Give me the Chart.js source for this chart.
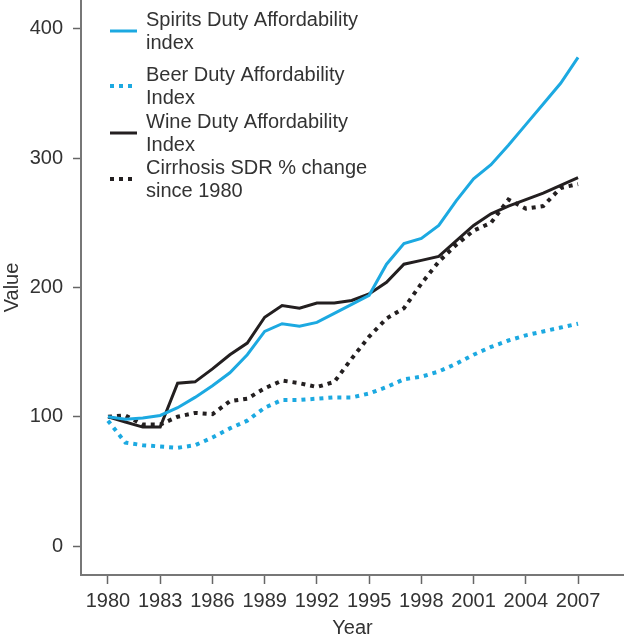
<!DOCTYPE html>
<html>
<head>
<meta charset="utf-8">
<script src="https://cdn.jsdelivr.net/npm/chart.js@4.4.0/dist/chart.umd.min.js"></script>
<style>
  html, body { margin: 0; padding: 0; background: #fff; }
</style>
</head>
<body>
<canvas id="myChart" width="624" height="640"></canvas>
<script>
var years = [1980, 1981, 1982, 1983, 1984, 1985, 1986, 1987, 1988, 1989,
             1990, 1991, 1992, 1993, 1994, 1995, 1996, 1997, 1998, 1999,
             2000, 2001, 2002, 2003, 2004, 2005, 2006, 2007];
var xTicks = [1980, 1983, 1986, 1989, 1992, 1995, 1998, 2001, 2004, 2007];
var yTicks = [0, 100, 200, 300, 400];

var spirits = [100, 98, 99, 101, 107, 115, 124, 134, 148, 166, 172, 170, 173, 180, 187, 194,
               218, 234, 238, 248, 267, 284, 295, 310, 326, 342, 358, 378];
var beer = [97, 80, 78, 77, 76, 78, 84, 91, 97, 107, 113, 113, 114, 115, 115, 118,
            123, 129, 131, 135, 141, 148, 154, 159, 163, 166, 169, 172];
var wine = [100, 96, 92, 92, 126, 127, 137, 148, 157, 177, 186, 184, 188, 188, 190, 195,
            204, 218, 221, 224, 236, 248, 257, 263, 268, 273, 279, 285];
var cirrhosis = [100, 101, 94, 94, 100, 103, 102, 112, 114, 122, 128, 126, 123, 127, 145, 162,
                 176, 184, 203, 220, 233, 244, 250, 268, 261, 263, 277, 280];

var legendLabels = [
    ['Spirits Duty Affordability', 'index'],
    ['Beer Duty Affordability', 'Index'],
    ['Wine Duty Affordability', 'Index'],
    ['Cirrhosis SDR % change', 'since 1980']
];

var BLUE = '#1ca9e1';
var BLACK = '#231f20';
var FONT = '"Liberation Sans", Arial, sans-serif';

function pts(vals) {
    return vals.map(function (v, i) { return { x: years[i], y: v }; });
}

// legend drawn inside the plot, top left, with two-line labels
var insideLegend = {
    id: 'insideLegend',
    afterDatasetsDraw: function (chart) {
        var c = chart.ctx;
        var area = chart.chartArea;
        var tops = [20, 75, 122, 168];
        c.save();
        c.font = '20px ' + FONT;
        c.textBaseline = 'middle';
        c.textAlign = 'left';
        chart.data.datasets.forEach(function (ds, i) {
            var y = area.top + tops[i];
            c.strokeStyle = ds.borderColor;
            c.lineWidth = ds.borderWidth;
            c.setLineDash(ds.borderDash || []);
            c.beginPath();
            c.moveTo(area.left + 29, y + 11);
            c.lineTo(area.left + 56, y + 11);
            c.stroke();
            c.fillStyle = '#333';
            legendLabels[i].forEach(function (t, j) {
                c.fillText(t, area.left + 65, y + j * 23);
            });
        });
        c.restore();
    }
};

var ctx = document.getElementById('myChart').getContext('2d');
var myChart = new Chart(ctx, {
    type: 'line',
    data: {
        datasets: [{
            label: legendLabels[0].join(' '),
            data: pts(spirits),
            borderColor: BLUE,
            borderWidth: 3
        }, {
            label: legendLabels[1].join(' '),
            data: pts(beer),
            borderColor: BLUE,
            borderWidth: 4,
            borderDash: [4, 5]
        }, {
            label: legendLabels[2].join(' '),
            data: pts(wine),
            borderColor: BLACK,
            borderWidth: 3
        }, {
            label: legendLabels[3].join(' '),
            data: pts(cirrhosis),
            borderColor: BLACK,
            borderWidth: 4,
            borderDash: [4, 5]
        }]
    },
    options: {
        responsive: false,
        animation: false,
        devicePixelRatio: 1,
        layout: { padding: 0 },
        elements: {
            point: { radius: 0 },
            line: { tension: 0, fill: false }
        },
        plugins: {
            legend: { display: false },
            tooltip: { enabled: false }
        },
        scales: {
            x: {
                type: 'linear',
                min: 1978.45,
                max: 2009.64,
                afterBuildTicks: function (axis) {
                    axis.ticks = xTicks.map(function (v) { return { value: v }; });
                },
                afterFit: function (scale) {
                    scale.height = 65;
                    scale.paddingLeft = 0;
                    scale.paddingRight = 0;
                },
                ticks: {
                    autoSkip: false,
                    maxRotation: 0,
                    padding: 5,
                    color: '#333',
                    font: { family: FONT, size: 20 },
                    callback: function (v) { return String(v); }
                },
                grid: {
                    drawOnChartArea: false,
                    drawTicks: true,
                    tickLength: 9,
                    tickColor: '#666',
                    tickWidth: 1.5
                },
                border: { display: true, color: '#777', width: 2 },
                title: {
                    display: true,
                    text: 'Year',
                    color: '#333',
                    padding: 0,
                    font: { family: FONT, size: 20 }
                }
            },
            y: {
                type: 'linear',
                min: -22.4,
                max: 422.4,
                afterBuildTicks: function (axis) {
                    axis.ticks = yTicks.map(function (v) { return { value: v }; });
                },
                afterFit: function (scale) {
                    scale.width = 81;
                    scale.paddingTop = 0;
                    scale.paddingBottom = 0;
                },
                ticks: {
                    padding: 10,
                    color: '#333',
                    font: { family: FONT, size: 20 },
                    callback: function (v) { return String(v); }
                },
                grid: {
                    drawOnChartArea: false,
                    drawTicks: true,
                    tickLength: 8,
                    tickColor: '#666',
                    tickWidth: 1.5
                },
                border: { display: true, color: '#777', width: 2 },
                title: {
                    display: true,
                    text: 'Value',
                    color: '#333',
                    padding: 0,
                    font: { family: FONT, size: 20 }
                }
            }
        }
    },
    plugins: [insideLegend]
});
</script>
</body>
</html>
